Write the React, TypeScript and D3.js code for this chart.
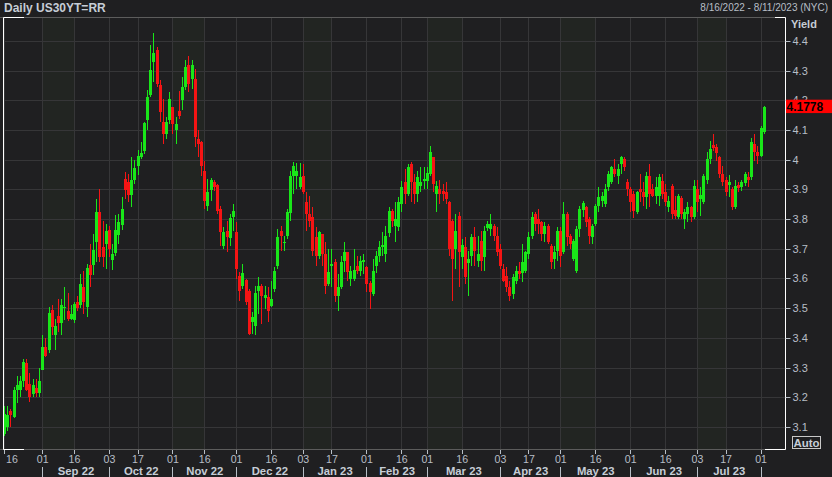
import React from 'react';
import * as d3 from 'd3';

// ---- data ----
const TITLE = 'Daily US30YT=RR';
const RANGE_TEXT = '8/16/2022 - 8/11/2023 (NYC)';
const AXIS_TITLE = 'Yield';
const FIRST_DAY = '2022-08-16';
const HOLIDAYS = ['2022-09-05', '2022-10-10', '2022-11-11', '2022-11-24', '2022-12-26', '2023-01-02', '2023-01-16', '2023-02-20', '2023-04-07', '2023-05-29', '2023-06-19', '2023-07-04'];
const Y_TICKS = [3.1, 3.2, 3.3, 3.4, 3.5, 3.6, 3.7, 3.8, 3.9, 4.0, 4.1, 4.2, 4.3, 4.4];
const LAST_LABEL = '4.1778';

const OPEN = [
  3.075, 3.10, 3.155, 3.135, 3.225, 3.225, 3.255, 3.315, 3.245, 3.21,
  3.23, 3.215, 3.29, 3.37, 3.36, 3.495, 3.41, 3.475, 3.45, 3.50,
  3.49, 3.465, 3.46, 3.52, 3.51, 3.57, 3.505, 3.645, 3.645, 3.722,
  3.824, 3.706, 3.717, 3.762, 3.663, 3.685, 3.745, 3.779, 3.936, 3.925,
  3.88, 3.93, 3.98, 4.009, 4.029, 4.133, 4.217, 4.329, 4.369, 4.25,
  4.127, 4.088, 4.133, 4.177, 4.101, 4.164, 4.20, 4.245, 4.318, 4.273,
  4.273, 4.071, 4.058, 3.963, 3.845, 3.899, 3.924, 3.915, 3.834, 3.71,
  3.761, 3.736, 3.806, 3.755, 3.609, 3.573, 3.595, 3.559, 3.452, 3.441,
  3.559, 3.576, 3.534, 3.539, 3.508, 3.565, 3.643, 3.759, 3.718, 3.744,
  3.819, 3.946, 3.946, 3.907, 3.946, 3.856, 3.817, 3.806, 3.738, 3.677,
  3.75, 3.682, 3.581, 3.643, 3.654, 3.542, 3.57, 3.66, 3.688, 3.598,
  3.598, 3.643, 3.626, 3.654, 3.64, 3.584, 3.548, 3.643, 3.677, 3.705,
  3.682, 3.752, 3.826, 3.775, 3.772, 3.851, 3.924, 3.884, 3.985, 3.924,
  3.884, 3.912, 3.927, 3.927, 3.952, 4.008, 3.884, 3.901, 3.896, 3.89,
  3.856, 3.795, 3.699, 3.811, 3.671, 3.705, 3.651, 3.677, 3.738, 3.66,
  3.727, 3.671, 3.77, 3.766, 3.778, 3.744, 3.699, 3.632, 3.609, 3.57,
  3.548, 3.593, 3.626, 3.62, 3.626, 3.682, 3.744, 3.817, 3.80, 3.789,
  3.75, 3.778, 3.71, 3.665, 3.693, 3.761, 3.688, 3.817, 3.744, 3.665,
  3.626, 3.766, 3.83, 3.842, 3.80, 3.738, 3.783, 3.845, 3.862, 3.851,
  3.907, 3.924, 3.969, 3.946, 3.985, 4.002, 3.926, 3.901, 3.884, 3.823,
  3.901, 3.89, 3.873, 3.946, 3.901, 3.879, 3.879, 3.927, 3.89, 3.84,
  3.912, 3.83, 3.806, 3.87, 3.80, 3.817, 3.842, 3.806, 3.901, 3.867,
  3.856, 3.93, 4.002, 4.05, 4.042, 4.008, 3.952, 3.93, 3.915, 3.901,
  3.84, 3.915, 3.907, 3.921, 3.94, 3.941, 4.053, 4.027, 4.014, 4.092,
];
const HIGH = [
  3.17, 3.17, 3.16, 3.235, 3.27, 3.27, 3.33, 3.33, 3.28, 3.26,
  3.26, 3.30, 3.41, 3.40, 3.505, 3.51, 3.465, 3.53, 3.53, 3.57,
  3.55, 3.51, 3.52, 3.54, 3.615, 3.625, 3.65, 3.715, 3.75, 3.868,
  3.90, 3.795, 3.784, 3.778, 3.717, 3.812, 3.818, 3.874, 3.958, 3.953,
  4.009, 3.998, 4.031, 4.06, 4.127, 4.234, 4.385, 4.425, 4.378, 4.267,
  4.206, 4.144, 4.228, 4.177, 4.144, 4.231, 4.279, 4.335, 4.348, 4.335,
  4.307, 4.099, 4.064, 3.997, 3.935, 3.938, 3.93, 3.918, 3.845, 3.772,
  3.795, 3.817, 3.851, 3.789, 3.621, 3.649, 3.598, 3.565, 3.486, 3.576,
  3.604, 3.582, 3.576, 3.57, 3.593, 3.638, 3.767, 3.775, 3.744, 3.834,
  3.963, 3.991, 3.99, 3.99, 3.985, 3.89, 3.879, 3.84, 3.772, 3.761,
  3.75, 3.722, 3.699, 3.699, 3.666, 3.615, 3.677, 3.722, 3.688, 3.643,
  3.699, 3.677, 3.677, 3.682, 3.643, 3.593, 3.666, 3.694, 3.727, 3.755,
  3.778, 3.84, 3.834, 3.856, 3.873, 3.929, 3.969, 3.985, 3.991, 3.952,
  3.963, 3.974, 3.974, 3.974, 4.047, 4.01, 3.929, 3.932, 3.918, 3.924,
  3.862, 3.80, 3.817, 3.823, 3.733, 3.738, 3.694, 3.75, 3.774, 3.744,
  3.761, 3.778, 3.795, 3.817, 3.783, 3.772, 3.716, 3.649, 3.637, 3.592,
  3.615, 3.643, 3.654, 3.716, 3.694, 3.755, 3.823, 3.823, 3.834, 3.794,
  3.789, 3.783, 3.716, 3.71, 3.772, 3.772, 3.856, 3.823, 3.75, 3.733,
  3.778, 3.845, 3.862, 3.845, 3.806, 3.783, 3.851, 3.907, 3.89, 3.918,
  3.963, 3.98, 4.002, 3.985, 4.013, 4.008, 3.935, 3.907, 3.896, 3.896,
  3.952, 3.924, 3.957, 3.985, 3.918, 3.94, 3.952, 3.952, 3.918, 3.879,
  3.918, 3.879, 3.885, 3.879, 3.834, 3.859, 3.845, 3.93, 3.93, 3.907,
  3.952, 4.025, 4.064, 4.087, 4.053, 4.014, 3.98, 3.941, 3.949, 3.907,
  3.93, 3.924, 3.93, 3.96, 3.96, 4.072, 4.087, 4.047, 4.115, 4.182,
];
const LOW = [
  3.07, 3.085, 3.10, 3.13, 3.18, 3.20, 3.235, 3.22, 3.185, 3.20,
  3.20, 3.20, 3.29, 3.335, 3.35, 3.41, 3.36, 3.42, 3.41, 3.46,
  3.455, 3.46, 3.45, 3.49, 3.50, 3.48, 3.47, 3.57, 3.61, 3.655,
  3.655, 3.638, 3.633, 3.672, 3.627, 3.677, 3.717, 3.762, 3.868, 3.857,
  3.84, 3.919, 3.947, 4.003, 4.02, 4.099, 4.211, 4.262, 4.245, 4.127,
  4.054, 4.071, 4.121, 4.088, 4.052, 4.138, 4.166, 4.234, 4.228, 4.239,
  4.043, 4.009, 3.946, 3.834, 3.828, 3.862, 3.896, 3.817, 3.71, 3.699,
  3.688, 3.71, 3.761, 3.598, 3.525, 3.565, 3.509, 3.408, 3.413, 3.408,
  3.48, 3.447, 3.497, 3.452, 3.503, 3.553, 3.632, 3.694, 3.694, 3.733,
  3.795, 3.885, 3.90, 3.90, 3.884, 3.761, 3.772, 3.677, 3.643, 3.666,
  3.643, 3.548, 3.576, 3.57, 3.52, 3.492, 3.565, 3.621, 3.593, 3.576,
  3.593, 3.615, 3.609, 3.615, 3.553, 3.497, 3.542, 3.62, 3.654, 3.677,
  3.654, 3.738, 3.772, 3.722, 3.761, 3.823, 3.851, 3.879, 3.856, 3.851,
  3.856, 3.89, 3.901, 3.901, 3.946, 3.89, 3.823, 3.851, 3.862, 3.851,
  3.677, 3.525, 3.632, 3.57, 3.632, 3.581, 3.542, 3.643, 3.643, 3.638,
  3.626, 3.626, 3.761, 3.744, 3.727, 3.677, 3.632, 3.587, 3.553, 3.525,
  3.531, 3.581, 3.598, 3.587, 3.62, 3.665, 3.733, 3.761, 3.75, 3.727,
  3.722, 3.716, 3.632, 3.632, 3.66, 3.637, 3.682, 3.71, 3.699, 3.66,
  3.62, 3.738, 3.806, 3.772, 3.716, 3.716, 3.778, 3.823, 3.84, 3.84,
  3.896, 3.918, 3.94, 3.918, 3.952, 3.963, 3.879, 3.823, 3.804, 3.817,
  3.856, 3.845, 3.834, 3.84, 3.873, 3.851, 3.845, 3.868, 3.845, 3.823,
  3.80, 3.80, 3.80, 3.80, 3.766, 3.789, 3.789, 3.80, 3.823, 3.811,
  3.851, 3.918, 3.986, 4.03, 3.997, 3.937, 3.913, 3.879, 3.873, 3.829,
  3.834, 3.89, 3.896, 3.913, 3.907, 3.93, 3.997, 3.986, 4.008, 4.087,
];
const CLOSE = [
  3.145, 3.14, 3.14, 3.225, 3.24, 3.255, 3.32, 3.225, 3.20, 3.24,
  3.215, 3.255, 3.37, 3.34, 3.485, 3.435, 3.44, 3.45, 3.51, 3.505,
  3.465, 3.48, 3.515, 3.50, 3.58, 3.52, 3.635, 3.61, 3.695, 3.824,
  3.672, 3.672, 3.76, 3.70, 3.683, 3.762, 3.79, 3.835, 3.897, 3.88,
  3.933, 3.973, 4.014, 4.022, 4.124, 4.211, 4.301, 4.36, 4.256, 4.161,
  4.088, 4.127, 4.206, 4.121, 4.119, 4.146, 4.245, 4.312, 4.256, 4.318,
  4.076, 4.054, 3.98, 3.862, 3.89, 3.93, 3.907, 3.828, 3.755, 3.755,
  3.739, 3.804, 3.826, 3.632, 3.559, 3.617, 3.52, 3.413, 3.469, 3.55,
  3.576, 3.542, 3.543, 3.492, 3.531, 3.624, 3.739, 3.744, 3.722, 3.823,
  3.946, 3.98, 3.963, 3.943, 3.89, 3.817, 3.795, 3.694, 3.677, 3.755,
  3.682, 3.576, 3.621, 3.649, 3.542, 3.57, 3.654, 3.69, 3.621, 3.626,
  3.628, 3.626, 3.66, 3.663, 3.581, 3.553, 3.626, 3.677, 3.707, 3.714,
  3.744, 3.828, 3.795, 3.80, 3.856, 3.907, 3.884, 3.976, 3.924, 3.884,
  3.94, 3.924, 3.935, 3.954, 4.025, 3.918, 3.912, 3.884, 3.884, 3.868,
  3.699, 3.666, 3.761, 3.688, 3.714, 3.604, 3.666, 3.738, 3.694, 3.682,
  3.66, 3.761, 3.785, 3.783, 3.744, 3.688, 3.643, 3.592, 3.57, 3.542,
  3.604, 3.626, 3.615, 3.654, 3.688, 3.738, 3.806, 3.783, 3.783, 3.75,
  3.778, 3.722, 3.654, 3.69, 3.761, 3.677, 3.817, 3.738, 3.716, 3.727,
  3.766, 3.834, 3.853, 3.789, 3.744, 3.778, 3.845, 3.875, 3.879, 3.901,
  3.952, 3.974, 3.952, 3.969, 4.008, 3.974, 3.901, 3.856, 3.828, 3.89,
  3.89, 3.873, 3.946, 3.884, 3.879, 3.907, 3.94, 3.884, 3.856, 3.862,
  3.817, 3.81, 3.879, 3.817, 3.823, 3.842, 3.806, 3.913, 3.856, 3.881,
  3.946, 4.002, 4.036, 4.038, 4.023, 3.952, 3.924, 3.89, 3.926, 3.84,
  3.913, 3.904, 3.924, 3.952, 3.93, 4.061, 4.027, 4.011, 4.106, 4.1778,
];

// ---- style / layout ----
const W = 832;
const H = 477;
const P = { l: 3.5, r: 785.5, t: 17.5, b: 449.5 };
const BG = '#1f1f21';
const SHADE = '#222522';
const GRID = '#363638';
const FRAME = '#5c5c5c';
const TXT = '#b7bec6';
const TXT_B = '#c6cdd6';
const UP = '#19e619';
const DOWN = '#f51414';
const FONT = '"Liberation Sans", Arial, sans-serif';

function tradingDays(n: number): Date[] {
  const hol = new Set(HOLIDAYS);
  const out: Date[] = [];
  const d = new Date(FIRST_DAY + 'T00:00:00Z');
  while (out.length < n) {
    const dow = d.getUTCDay();
    const iso = d.toISOString().slice(0, 10);
    if (dow !== 0 && dow !== 6 && !hol.has(iso)) out.push(new Date(d.getTime()));
    d.setUTCDate(d.getUTCDate() + 1);
  }
  return out;
}

export default function App() {
  const n = CLOSE.length;
  const days = tradingDays(n);
  const x = d3.scaleLinear().domain([-0.16, n - 1 + 6.85]).range([P.l, P.r]);
  const y = d3.scaleLinear().domain([3.0239, 4.4788]).range([P.b, P.t]);

  // ticks: first trading day on/after the 1st and the 16th
  const ticks: { i: number; label: string; monthStart: boolean }[] = [];
  days.forEach((d, i) => {
    const prev = i > 0 ? days[i - 1] : null;
    const newMonth = prev ? prev.getUTCMonth() !== d.getUTCMonth() : false;
    const mid = d.getUTCDate() >= 16 && (!prev || newMonth || prev.getUTCDate() < 16);
    if (newMonth || mid) {
      ticks.push({ i, label: d3.utcFormat('%d')(d), monthStart: newMonth });
    }
  });
  const monthStarts = ticks.filter((t) => t.monthStart);
  const months = monthStarts.slice(0, -1).map((t, k) => ({
    a: t.i,
    b: monthStarts[k + 1].i,
    label: d3.utcFormat('%b %y')(days[t.i]),
  }));
  const shades = monthStarts
    .map((t, k) => {
      const next = ticks.find((u) => u.i > t.i);
      return k % 2 === 0 && next ? { a: t.i, b: next.i } : null;
    })
    .filter(Boolean) as { a: number; b: number }[];

  const px = (v: number) => Math.round(v) + 0.5;
  const lastY = y(CLOSE[n - 1]);

  return (
    <svg
      width={W}
      height={H}
      style={{ position: 'fixed', left: 0, top: 0, display: 'block', background: BG }}
      fontFamily={FONT}
    >
      <rect x={0} y={0} width={W} height={H} fill={BG} />
      {/* month shading */}
      {shades.map((s, k) => (
        <rect key={'s' + k} x={Math.round(x(s.a))} y={P.t} width={Math.round(x(s.b)) - Math.round(x(s.a))} height={P.b - P.t} fill={SHADE} />
      ))}
      {/* grid */}
      {Y_TICKS.map((v) => (
        <line key={'gy' + v} x1={P.l} x2={P.r} y1={px(y(v))} y2={px(y(v))} stroke={GRID} />
      ))}
      {ticks.map((t) => (
        <line key={'gx' + t.i} x1={px(x(t.i))} x2={px(x(t.i))} y1={P.t} y2={P.b} stroke={GRID} />
      ))}
      {/* candles */}
      {CLOSE.map((c, i) => {
        const o = OPEN[i];
        const up = c >= o;
        const col = up ? UP : DOWN;
        const cx = Math.round(x(i));
        const yt = Math.round(y(Math.max(o, c)));
        const yb = Math.round(y(Math.min(o, c)));
        return (
          <g key={'c' + i}>
            <line x1={cx + 0.5} x2={cx + 0.5} y1={Math.round(y(HIGH[i]))} y2={Math.round(y(LOW[i]))} stroke={col} />
            <rect x={cx - 1} y={yt} width={3} height={Math.max(1, yb - yt)} fill={col} />
          </g>
        );
      })}
      {/* frame */}
      <line x1={0} x2={P.r} y1={P.t} y2={P.t} stroke={FRAME} />
      <line x1={0} x2={P.r} y1={P.b} y2={P.b} stroke={FRAME} />
      <line x1={P.l} x2={P.l} y1={P.t} y2={P.b} stroke="#ffffff" />
      <line x1={P.r} x2={P.r} y1={P.t} y2={P.b} stroke="#ffffff" />
      <line x1={P.l} x2={P.l + 20.5} y1={P.t} y2={P.t} stroke="#ffffff" />
      <line x1={P.l} x2={P.l + 20.5} y1={P.b} y2={P.b} stroke="#ffffff" />
      <line x1={P.r - 10.5} x2={P.r} y1={P.t} y2={P.t} stroke="#ffffff" />
      <line x1={P.r - 20.5} x2={P.r} y1={P.b} y2={P.b} stroke="#ffffff" />

      {/* titles */}
      <text x={4} y={12} fontSize={12} fontWeight="bold" fill={TXT_B}>{TITLE}</text>
      <text x={828} y={11} fontSize={10} fill={TXT} textAnchor="end">{RANGE_TEXT}</text>
      <text x={791} y={27.5} fontSize={11} fontWeight="bold" fill={TXT_B}>{AXIS_TITLE}</text>

      {/* y axis */}
      {Y_TICKS.map((v) => (
        <g key={'yt' + v}>
          <line x1={P.r} x2={P.r + 5} y1={px(y(v))} y2={px(y(v))} stroke={TXT} />
          <text x={792.5} y={y(v) + 4} fontSize={11} fill={TXT}>{d3.format('~g')(v)}</text>
        </g>
      ))}
      <rect x={786} y={lastY - 7.2} width={46} height={13.4} fill="#ff0000" />
      <text x={786.5} y={lastY + 4.3} fontSize={12} fontWeight="bold" fill="#000000">{LAST_LABEL}</text>
      <rect x={792.5} y={436.5} width={28} height={12} fill="none" stroke="#c8c8c8" />
      <text x={806.5} y={446.5} fontSize={11.5} fontWeight="bold" fill={TXT_B} textAnchor="middle">Auto</text>

      {/* x axis */}
      {ticks.map((t) => (
        <g key={'xt' + t.i}>
          <line x1={px(x(t.i))} x2={px(x(t.i))} y1={450} y2={454} stroke={TXT} />
          <text x={Math.max(12, x(t.i) + 0.5)} y={462.6} fontSize={10.6} fill={TXT} textAnchor="middle">{t.label}</text>
        </g>
      ))}
      {monthStarts.map((t) => (
        <line key={'ms' + t.i} x1={px(x(t.i))} x2={px(x(t.i))} y1={467} y2={477} stroke={TXT} />
      ))}
      {months.map((m) => (
        <text key={'ml' + m.a} x={(x(m.a) + x(m.b)) / 2 + 0.5} y={474.6} fontSize={11.3} fontWeight="bold" fill={TXT_B} textAnchor="middle">
          {m.label}
        </text>
      ))}
    </svg>
  );
}
